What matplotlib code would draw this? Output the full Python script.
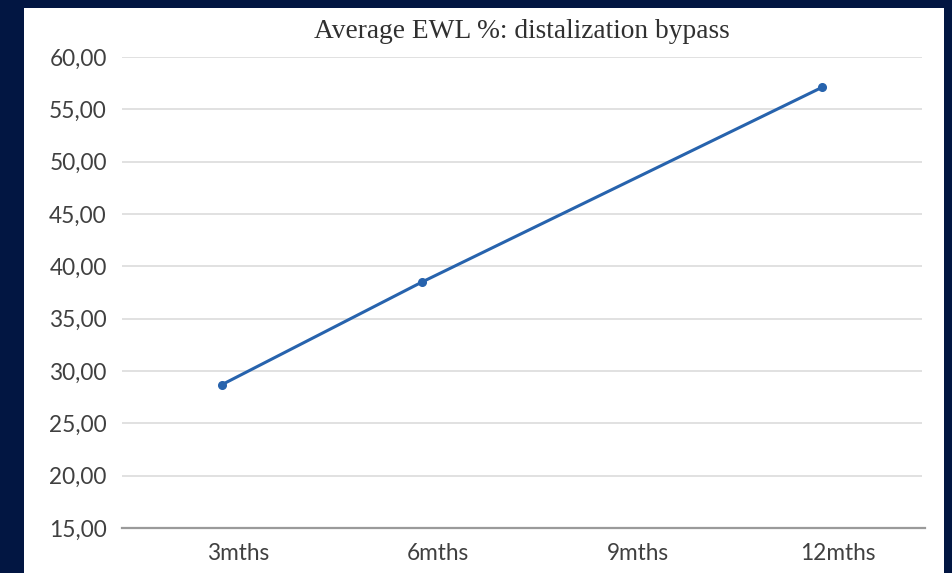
import numpy as np
import matplotlib
matplotlib.use("Agg")
import matplotlib.pyplot as plt
from matplotlib.patches import Rectangle
from matplotlib.transforms import ScaledTranslation

# Average excess weight loss (%) at each follow-up; 9mths has no measurement
periods = ["3mths", "6mths", "9mths", "12mths"]
ewl_pct = [28.7, 38.5, np.nan, 57.1]
y_ticks = [15, 20, 25, 30, 35, 40, 45, 50, 55, 60]
title = "Average EWL %: distalization bypass"

W, H = 953, 573
fig = plt.figure(figsize=(W / 100, H / 100), dpi=100)
fig.patch.set_facecolor("#021642")

# white chart panel on the navy slide background
fig.patches.append(Rectangle((24 / W, 0), (944 - 24) / W, 1 - 8 / H,
                             transform=fig.transFigure, facecolor="white",
                             edgecolor="none", zorder=-10))

ax = fig.add_axes([122 / W, 1 - 528 / H, (922 - 122) / W, (528 - 57) / H])
ax.set_facecolor("none")

x = np.arange(len(periods))
vals = np.array(ewl_pct, dtype=float)
ok = ~np.isnan(vals)
ax.plot(x[ok], vals[ok], color="#2763ad", lw=2.2, marker="o", ms=5.5,
        solid_capstyle="round", zorder=3)

ax.set_xlim(-0.5, len(periods) - 0.5)
ax.set_ylim(15, 60)
ax.set_yticks(y_ticks)
ax.set_yticklabels([f"{v:.2f}".replace(".", ",") for v in y_ticks])
ax.set_xticks(x)
ax.set_xticklabels(periods)

ax.grid(axis="y", color="#dcdcdc", lw=1.2)
ax.set_axisbelow(True)
for s in ["left", "right", "top"]:
    ax.spines[s].set_visible(False)
ax.spines["bottom"].set_color("#9a9a9a")
ax.spines["bottom"].set_linewidth(1.6)
ax.spines["bottom"].set_bounds(-0.5, 3.515)
ax.tick_params(length=0, labelsize=16.3, labelcolor="#404040")
ax.tick_params(axis="y", pad=11)
ax.tick_params(axis="x", pad=11)
for lab in ax.get_xticklabels() + ax.get_yticklabels():
    lab.set_fontfamily("Lato")

# category labels sit a little to the right of their data points
shift = ScaledTranslation(16 / 100, 0, fig.dpi_scale_trans)
for lab in ax.get_xticklabels():
    lab.set_transform(lab.get_transform() + shift)

fig.text(522 / W, 1 - 31 / H, title, ha="center", va="center",
         fontsize=19.7, family="Liberation Serif", color="#303030")

fig.savefig("out.png", dpi=100, facecolor=fig.get_facecolor())
